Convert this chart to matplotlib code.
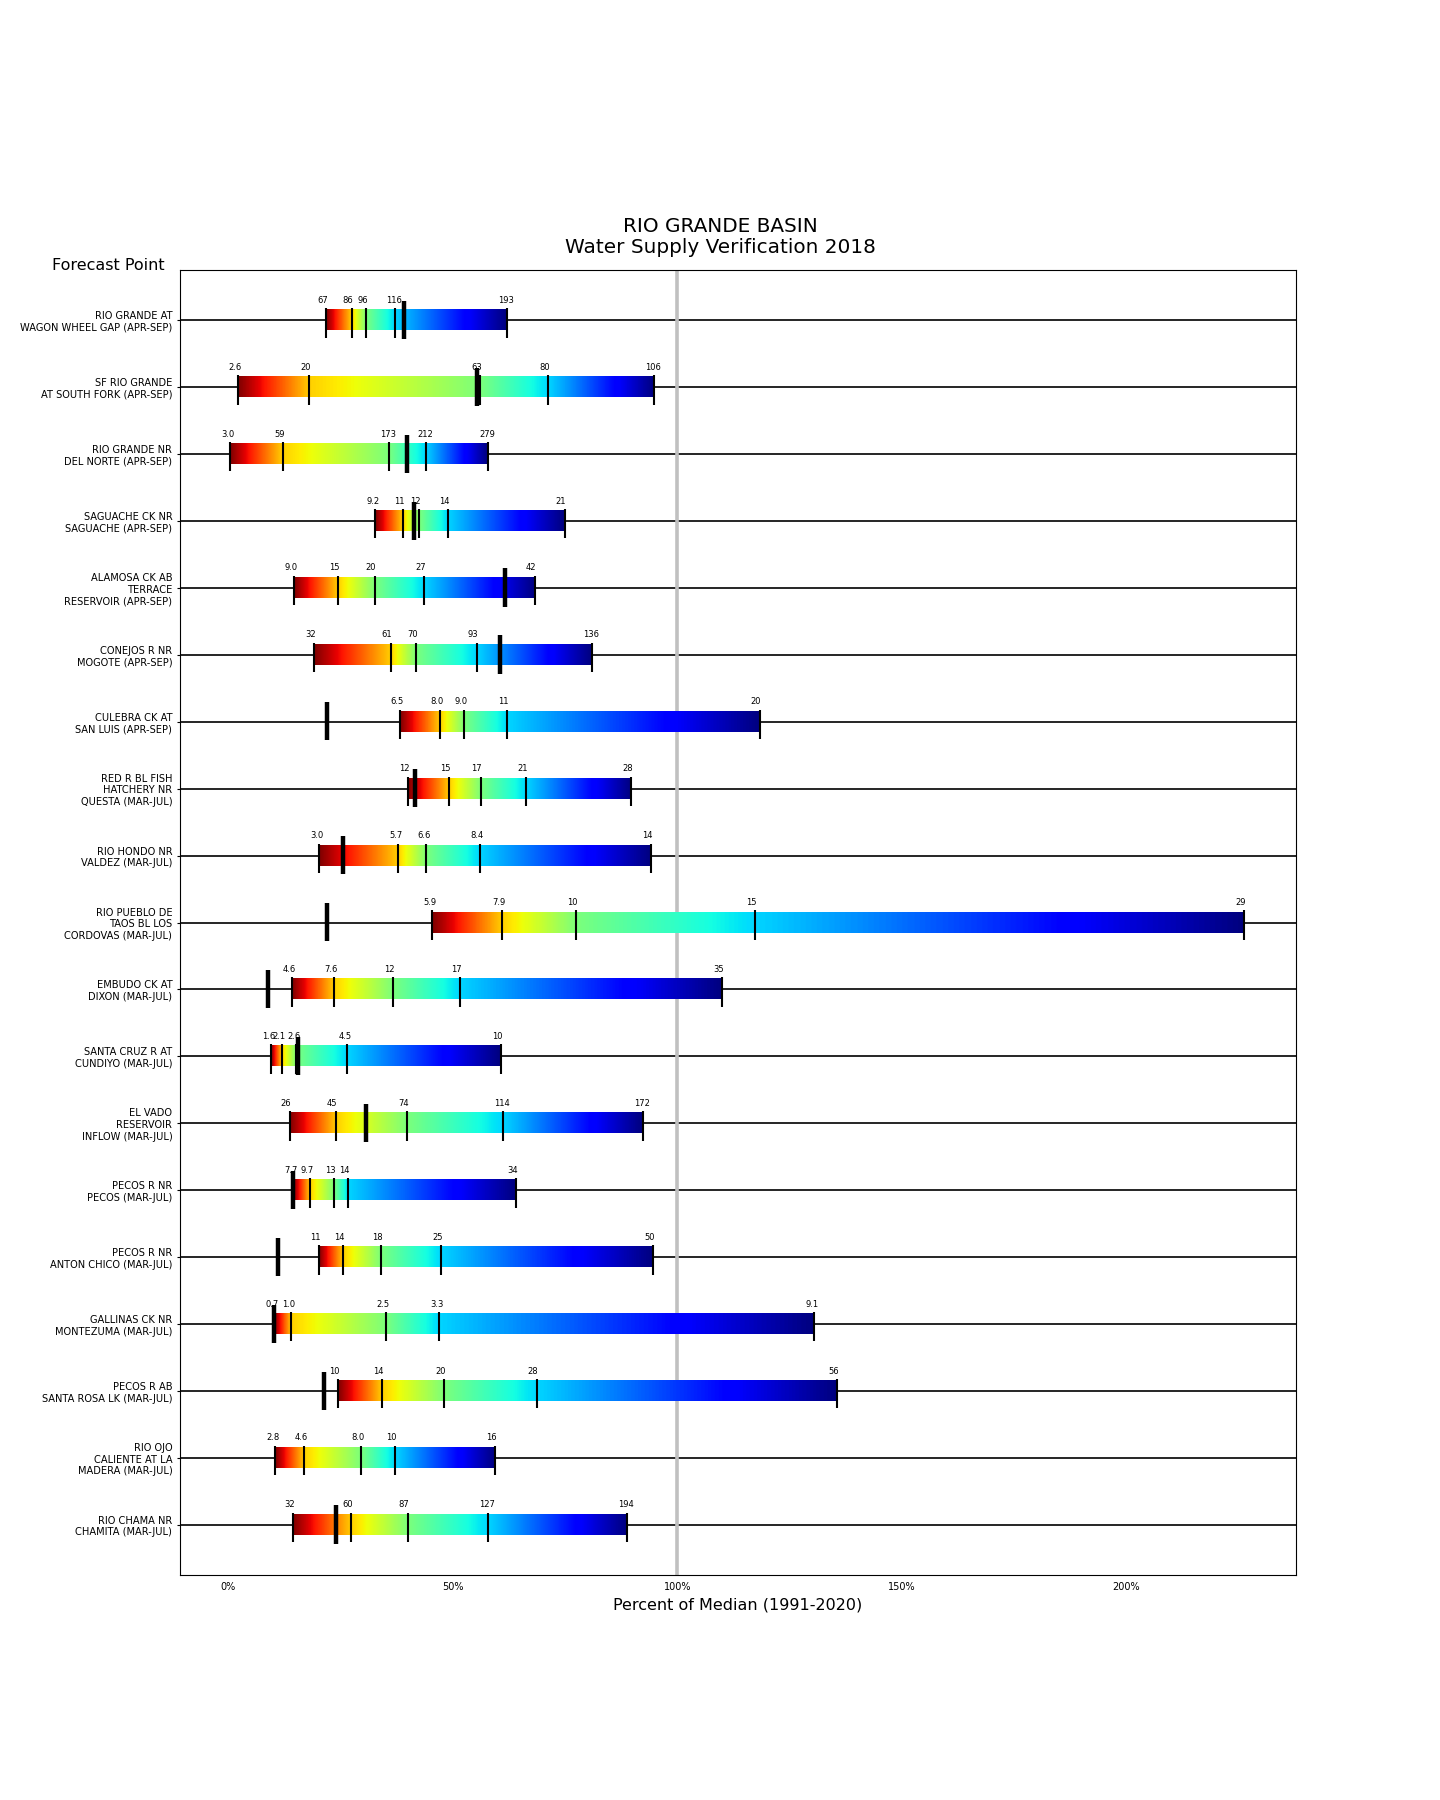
import numpy as np
import matplotlib
matplotlib.use('Agg')
import matplotlib.pyplot as plt

# forecast points, top to bottom
names = ['RIO GRANDE AT\nWAGON WHEEL GAP (APR-SEP)',
         'SF RIO GRANDE\nAT SOUTH FORK (APR-SEP)',
         'RIO GRANDE NR\nDEL NORTE (APR-SEP)',
         'SAGUACHE CK NR\nSAGUACHE (APR-SEP)',
         'ALAMOSA CK AB\nTERRACE\nRESERVOIR (APR-SEP)',
         'CONEJOS R NR\nMOGOTE (APR-SEP)',
         'CULEBRA CK AT\nSAN LUIS (APR-SEP)',
         'RED R BL FISH\nHATCHERY NR\nQUESTA (MAR-JUL)',
         'RIO HONDO NR\nVALDEZ (MAR-JUL)',
         'RIO PUEBLO DE\nTAOS BL LOS\nCORDOVAS (MAR-JUL)',
         'EMBUDO CK AT\nDIXON (MAR-JUL)',
         'SANTA CRUZ R AT\nCUNDIYO (MAR-JUL)',
         'EL VADO\nRESERVOIR\nINFLOW (MAR-JUL)',
         'PECOS R NR\nPECOS (MAR-JUL)',
         'PECOS R NR\nANTON CHICO (MAR-JUL)',
         'GALLINAS CK NR\nMONTEZUMA (MAR-JUL)',
         'PECOS R AB\nSANTA ROSA LK (MAR-JUL)',
         'RIO OJO\nCALIENTE AT LA\nMADERA (MAR-JUL)',
         'RIO CHAMA NR\nCHAMITA (MAR-JUL)']

# forecast values as percent of median (90/70/50/30/10 % exceedance)
p90 = [21.8, 2.1, 0.5, 32.7, 14.6, 19.1, 38.2, 40.0, 20.2, 45.4, 14.2, 9.5, 13.7, 14.4, 20.2, 10.2, 24.4, 10.4, 14.4]
p70 = [27.5, 18.0, 12.2, 38.9, 24.4, 36.2, 47.1, 49.2, 37.8, 60.9, 23.5, 11.9, 24.0, 18.2, 25.6, 14.0, 34.2, 16.9, 27.4]
p50 = [30.7, 56.1, 35.8, 42.6, 32.6, 41.8, 52.5, 56.2, 44.1, 77.5, 36.7, 15.1, 39.8, 23.5, 34.0, 35.1, 48.1, 29.5, 40.0]
p30 = [37.1, 71.2, 44.1, 48.9, 43.6, 55.4, 62.1, 66.3, 56.0, 117.4, 51.6, 26.5, 61.2, 26.7, 47.4, 46.9, 68.7, 37.1, 57.9]
p10 = [62.1, 94.8, 57.9, 74.9, 68.3, 81.0, 118.4, 89.7, 94.2, 226.3, 110.0, 60.7, 92.3, 64.1, 94.6, 130.5, 135.6, 59.4, 88.9]
# observed volume, percent of median
obs = [39.1, 55.4, 39.8, 41.3, 61.6, 60.6, 22.0, 41.5, 25.6, 22.0, 8.8, 15.5, 30.7, 14.4, 11.0, 10.2, 21.3, np.nan, 23.9]

# volume labels (KAF)
l90 = ['67', '2.6', '3.0', '9.2', '9.0', '32', '6.5', '12', '3.0', '5.9', '4.6', '1.6', '26', '7.7', '11', '0.7', '10', '2.8', '32']
l70 = ['86', '20', '59', '11', '15', '61', '8.0', '15', '5.7', '7.9', '7.6', '2.1', '45', '9.7', '14', '1.0', '14', '4.6', '60']
l50 = ['96', '63', '173', '12', '20', '70', '9.0', '17', '6.6', '10', '12', '2.6', '74', '13', '18', '2.5', '20', '8.0', '87']
l30 = ['116', '80', '212', '14', '27', '93', '11', '21', '8.4', '15', '17', '4.5', '114', '14', '25', '3.3', '28', '10', '127']
l10 = ['193', '106', '279', '21', '42', '136', '20', '28', '14', '29', '35', '10', '172', '34', '50', '9.1', '56', '16', '194']

xt = [0, 50, 100, 150, 200]
xtl = ['0%', '50%', '100%', '150%', '200%']

CSTOPS = [0.0, 0.31, 0.5, 0.665, 1.0]
BAR_H = 0.30
FNT = 7

fig = plt.figure(figsize=(14.4, 18), dpi=100)
ax = fig.add_axes([0.125, 0.125, 0.775, 0.725])

n = len(names)
ys = np.arange(n)

for i in range(n):
    ax.axhline(ys[i], color='k', lw=1.2, zorder=1)
ax.axvline(100, color='#c0c0c0', lw=2.6, zorder=1.5)

for i in range(n):
    pts = [p90[i], p70[i], p50[i], p30[i], p10[i]]
    labs = [l90[i], l70[i], l50[i], l30[i], l10[i]]
    xs = np.linspace(pts[0], pts[-1], 600)
    grad = np.interp(xs, pts, CSTOPS)
    ax.imshow(grad[np.newaxis, :], extent=[pts[0], pts[-1], ys[i] + BAR_H/2, ys[i] - BAR_H/2],
              cmap='jet_r', vmin=0, vmax=1, aspect='auto', interpolation='bilinear', zorder=2)
    ax.vlines(pts, ys[i] - 0.18, ys[i] + 0.26, color='k', lw=1.5, zorder=3)
    if not np.isnan(obs[i]):
        ax.vlines(obs[i], ys[i] - 0.29, ys[i] + 0.28, color='k', lw=3.2, zorder=4)
    for x, s in zip(pts, labs):
        ax.text(x - 2.0, ys[i] - 0.26, s, fontsize=6, ha='left', va='baseline', color='k', zorder=5)

ax.set_xlim(-10.73, 237.8)
ax.set_ylim(n - 1 + 0.75, -0.75)
ax.set_xticks(xt)
ax.set_xticklabels(xtl, fontsize=FNT)
ax.set_yticks(ys)
ax.set_yticklabels(names, fontsize=7.1)
ax.tick_params(axis='x', length=0, pad=5)
ax.tick_params(axis='y', length=2.5, pad=3)
ax.set_xlabel('Percent of Median (1991-2020)', fontsize=11.5)

fig.text(0.5, 1 - 257/1800, 'RIO GRANDE BASIN\nWater Supply Verification 2018',
         ha='center', va='bottom', fontsize=14.4, linespacing=1.1)
fig.text(0.114, 0.85, 'Forecast Point', ha='right', va='baseline', fontsize=11.5)

fig.savefig('out.png', dpi=100)
